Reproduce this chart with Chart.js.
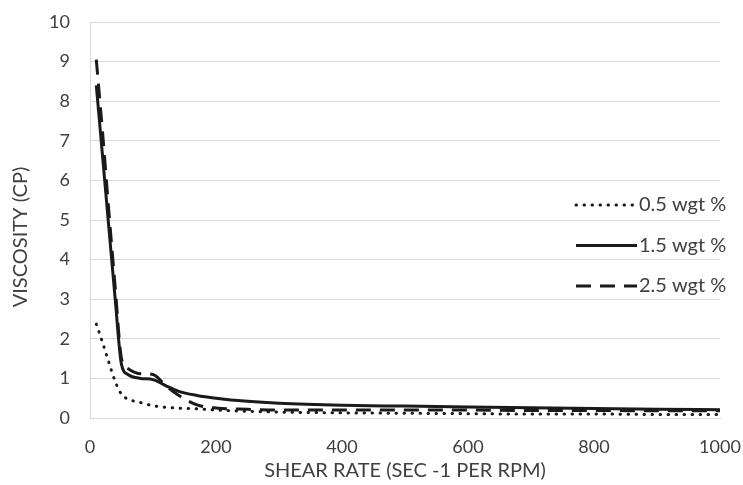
<!DOCTYPE html>
<html>
<head>
<meta charset="utf-8">
<script src="https://cdn.jsdelivr.net/npm/chart.js@4"></script>
<style>
  html, body { margin: 0; padding: 0; background: #fff; }
  #wrap { width: 743px; height: 485px; }
</style>
</head>
<body>
<div id="wrap"><canvas id="myChart" width="743" height="485"></canvas></div>
<script>
// shear rate (x) and viscosity for each concentration
var shearRate = [10, 20, 30, 40, 50, 60, 80, 100, 120, 140, 170, 200, 250, 300, 400, 500, 600, 700, 800, 900, 1000];
var visc05 = [2.37, 1.9, 1.4, 0.92, 0.6, 0.48, 0.39, 0.31, 0.27, 0.25, 0.23, 0.2, 0.17, 0.15, 0.13, 0.12, 0.11, 0.1, 0.1, 0.09, 0.09];
var visc15 = [8.4, 6.6, 4.8, 3.0, 1.35, 1.1, 1.0, 0.97, 0.82, 0.68, 0.57, 0.5, 0.42, 0.37, 0.32, 0.3, 0.28, 0.26, 0.24, 0.22, 0.21];
var visc25 = [9.05, 7.2, 5.2, 3.3, 1.5, 1.25, 1.12, 1.1, 0.82, 0.58, 0.33, 0.25, 0.22, 0.2, 0.2, 0.2, 0.2, 0.19, 0.19, 0.18, 0.18];
var seriesLabels = ['0.5 wgt %', '1.5 wgt %', '2.5 wgt %'];
var xTicks = [0, 200, 400, 600, 800, 1000];
var yTicks = [0, 1, 2, 3, 4, 5, 6, 7, 8, 9, 10];
var xTitle = 'SHEAR RATE (SEC -1 PER RPM)';
var yTitle = 'VISCOSITY (CP)';

function toPoints(ys) {
    return shearRate.map(function (x, i) { return { x: x, y: ys[i] }; });
}

var FONT = 'Lato, "Open Sans", sans-serif';
var TEXT = '#404040';

// legend drawn inside the plot on the right, plus the y title
var extras = {
    id: 'extras',
    afterDraw: function (chart) {
        var ctx = chart.ctx;
        var startY = 205;
        chart.data.datasets.forEach(function (ds, i) {
            var y = startY + i * 40.5;
            ctx.save();
            ctx.strokeStyle = ds.borderColor;
            ctx.lineWidth = ds.borderWidth;
            ctx.lineCap = ds.borderCapStyle || 'butt';
            ctx.setLineDash(ds.borderDash || []);
            ctx.beginPath();
            ctx.moveTo(576, y);
            ctx.lineTo(637, y);
            ctx.stroke();
            ctx.setLineDash([]);
            ctx.fillStyle = TEXT;
            ctx.font = '20px ' + FONT;
            ctx.textBaseline = 'middle';
            ctx.fillText(ds.label, 639, y);
            ctx.restore();
        });

        ctx.save();
        ctx.translate(21, 237);
        ctx.rotate(-Math.PI / 2);
        ctx.fillStyle = TEXT;
        ctx.font = '20px ' + FONT;
        ctx.textAlign = 'center';
        ctx.textBaseline = 'middle';
        ctx.fillText(yTitle, 0, 0);
        ctx.restore();
    }
};

function setChart() {
    const ctx = document.getElementById('myChart');
    new Chart(ctx, {
        type: 'scatter',
        data: {
            datasets: [{
                label: seriesLabels[0],
                data: toPoints(visc05),
                borderColor: '#1a1a1a',
                borderWidth: 3,
                borderDash: [0.5, 7.5],
                borderCapStyle: 'round'
            }, {
                label: seriesLabels[1],
                data: toPoints(visc15),
                borderColor: '#1a1a1a',
                borderWidth: 3
            }, {
                label: seriesLabels[2],
                data: toPoints(visc25),
                borderColor: '#1a1a1a',
                borderWidth: 3,
                borderDash: [15, 9]
            }]
        },
        options: {
            responsive: false,
            animation: false,
            showLine: true,
            layout: { padding: { left: 4, right: 23, top: 22, bottom: 0 } },
            elements: {
                point: { radius: 0 },
                line: { cubicInterpolationMode: 'monotone', fill: false }
            },
            plugins: {
                legend: { display: false },
                tooltip: { enabled: false }
            },
            scales: {
                x: {
                    type: 'linear',
                    min: 0,
                    max: 1000,
                    afterBuildTicks: function (axis) {
                        axis.ticks = xTicks.map(function (v) { return { value: v }; });
                    },
                    afterFit: function (axis) {
                        axis.height = 67;
                        axis.paddingLeft = 0;
                        axis.paddingRight = 0;
                    },
                    grid: { display: false, drawTicks: false },
                    border: { display: true, color: '#d9d9d9', width: 1 },
                    ticks: {
                        color: TEXT,
                        font: { family: FONT, size: 18 },
                        padding: 18,
                        maxRotation: 0,
                        callback: function (v) { return String(v); }
                    },
                    title: {
                        display: true,
                        text: xTitle,
                        color: TEXT,
                        font: { family: FONT, size: 20 },
                        padding: { top: 0, bottom: 2 }
                    }
                },
                y: {
                    type: 'linear',
                    min: 0,
                    max: 10,
                    afterBuildTicks: function (axis) {
                        axis.ticks = yTicks.map(function (v) { return { value: v }; });
                    },
                    afterFit: function (axis) {
                        axis.width = 86;
                        axis.paddingTop = 0;
                        axis.paddingBottom = 0;
                    },
                    grid: { color: '#d9d9d9', lineWidth: 1, drawTicks: false },
                    border: { display: true, color: '#d9d9d9', width: 1 },
                    ticks: {
                        color: TEXT,
                        font: { family: FONT, size: 18 },
                        padding: 20,
                        callback: function (v) { return String(v); }
                    },
                    title: { display: false }
                }
            }
        },
        plugins: [extras]
    });
}

setChart();
</script>
</body>
</html>
